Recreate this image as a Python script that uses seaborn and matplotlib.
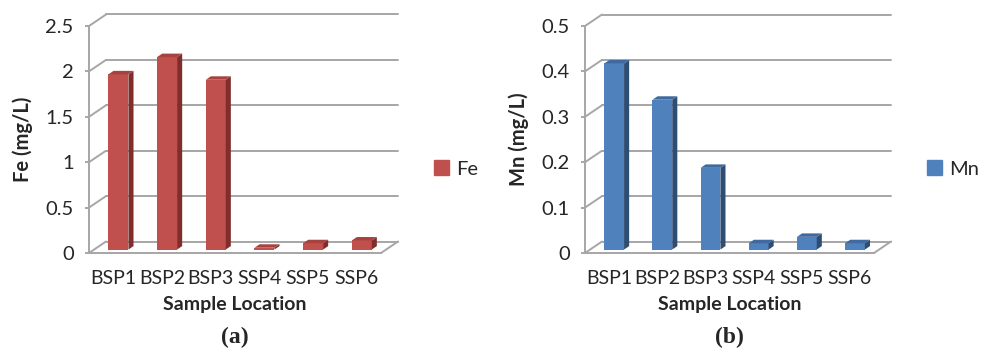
import numpy as np
import pandas as pd
import matplotlib
matplotlib.use('Agg')
import matplotlib.pyplot as plt
import seaborn as sns

# data
locations = ['BSP1', 'BSP2', 'BSP3', 'SSP4', 'SSP5', 'SSP6']
fe_values = [1.93, 2.12, 1.87, 0.02, 0.07, 0.10]
mn_values = [0.41, 0.33, 0.18, 0.014, 0.028, 0.014]
fe_ticks = [0, 0.5, 1, 1.5, 2, 2.5]
mn_ticks = [0, 0.1, 0.2, 0.3, 0.4, 0.5]
fe_ticklabels = ['0', '0.5', '1', '1.5', '2', '2.5']
mn_ticklabels = ['0', '0.1', '0.2', '0.3', '0.4', '0.5']

sns.set_style('white')
plt.rcParams['font.family'] = ['Lato', 'DejaVu Sans']

GRID = '#a6a6a6'
DEPTH_X, DEPTH_Y = 17, 11.5   # back wall offset in px
BAR_F, BAR_D = 0.3, 0.3       # bar position / depth as fraction of full depth
FS = 14


def draw_panel(ax, values, ticks, ticklabels, name, ylabel, face, side, top, letter):
    df = pd.DataFrame({'loc': locations, 'val': values})
    ymax = ticks[-1]
    n = len(locations)
    xmin, xmax = -0.5, n - 0.5
    ax.set_xlim(xmin, xmax)
    ax.set_ylim(0, ymax)

    bb = ax.get_window_extent()
    dxu = DEPTH_X / (bb.width / n)
    dyu = DEPTH_Y / (bb.height / ymax)

    # back wall gridlines + diagonals
    for t in ticks:
        ax.plot([xmin + dxu, xmax + dxu], [t + dyu, t + dyu], color=GRID, lw=1.4,
                clip_on=False, zorder=0)
        ax.plot([xmin, xmin + dxu], [t, t + dyu], color=GRID, lw=1.4,
                clip_on=False, zorder=0)
    ax.plot([xmax, xmax + dxu], [0, dyu], color=GRID, lw=1.4, clip_on=False, zorder=0)

    sns.barplot(data=df, x='loc', y='val', color=face, saturation=1, width=0.41,
                ax=ax, zorder=3)
    for p in ax.patches:
        p.set_x(p.get_x() + BAR_F * dxu)
        p.set_y(BAR_F * dyu)
        p.set_edgecolor('none')
        p.set_clip_on(False)
        x0 = p.get_x()
        x1 = x0 + p.get_width()
        y0 = p.get_y()
        y1 = y0 + p.get_height()
        ddx, ddy = BAR_D * dxu, BAR_D * dyu
        ax.add_patch(plt.Polygon([(x1, y0), (x1 + ddx, y0 + ddy), (x1 + ddx, y1 + ddy), (x1, y1)],
                                 closed=True, fc=side, ec='none', zorder=3, clip_on=False))
        ax.add_patch(plt.Polygon([(x0, y1), (x1, y1), (x1 + ddx, y1 + ddy), (x0 + ddx, y1 + ddy)],
                                 closed=True, fc=top, ec='none', zorder=3, clip_on=False))

    # axes
    for s in ['top', 'right']:
        ax.spines[s].set_visible(False)
    for s in ['left', 'bottom']:
        ax.spines[s].set_color(GRID)
        ax.spines[s].set_linewidth(1.4)
    ax.set_yticks(ticks)
    ax.set_yticklabels(ticklabels)
    ax.set_xticks(np.arange(n))
    ax.set_xticklabels(locations)
    ax.set_xticks(np.arange(n + 1) - 0.5, minor=True)
    ax.tick_params(axis='x', which='major', length=0, pad=12, labelsize=FS)
    ax.tick_params(axis='x', which='minor', length=4, width=1.4, color=GRID, direction='out')
    ax.tick_params(axis='y', length=3, width=1.4, color=GRID, pad=8, labelsize=FS + 0.5, left=True)
    ax.set_xlabel('Sample Location', fontsize=14, fontweight='bold', labelpad=7)
    ax.set_ylabel(ylabel, fontsize=14.5, fontweight='bold', labelpad=9)
    ax.grid(False)

    # legend
    handle = matplotlib.patches.Patch(color=face, label=name)
    ax.legend(handles=[handle], loc='center left', bbox_to_anchor=(1.12, 0.37),
              frameon=False, fontsize=14.5, handlelength=0.75, handleheight=0.75,
              handletextpad=0.35)

    ax.text(0.5, -0.37, letter, transform=ax.transAxes, ha='center', va='center',
            fontsize=17, fontweight='bold', family='Liberation Serif')


fig = plt.figure(figsize=(9.86, 3.48), dpi=100)
ax1 = fig.add_axes([89 / 986, (348 - 253) / 348, 292 / 986, 227 / 348])
ax2 = fig.add_axes([585 / 986, (348 - 253) / 348, 289 / 986, 227 / 348])

draw_panel(ax1, fe_values, fe_ticks, fe_ticklabels, 'Fe', 'Fe (mg/L)',
           '#c0504d', '#7f2e2c', '#a8423f', '(a)')
draw_panel(ax2, mn_values, mn_ticks, mn_ticklabels, 'Mn', 'Mn (mg/L)',
           '#4f81bd', '#2e4d73', '#3f6aa0', '(b)')

fig.savefig('out.png', dpi=100)
